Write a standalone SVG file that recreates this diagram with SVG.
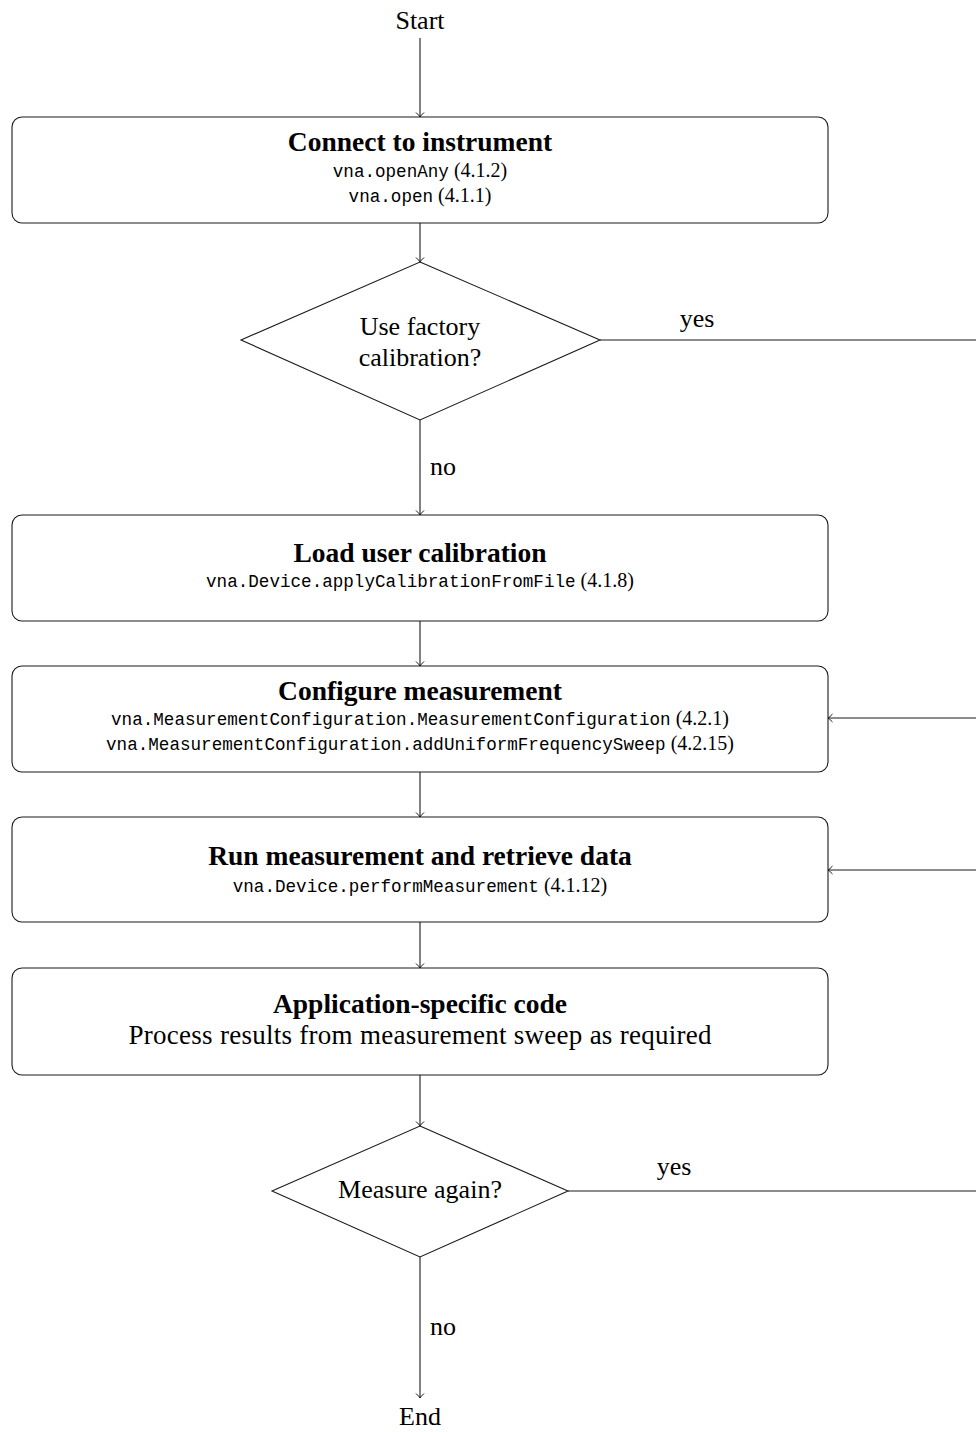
<svg xmlns="http://www.w3.org/2000/svg" width="976" height="1432" viewBox="0 0 976 1432">
<style>
.box{fill:#fff;stroke:#1a1a1a;stroke-width:1.1}
.ln{fill:none;stroke:#1a1a1a;stroke-width:1.1}
.t{font-family:"Liberation Serif",serif;fill:#000;text-anchor:middle}
.title{font-size:27.5px;font-weight:bold}
.body{font-size:27px}
.lab{font-size:26px}
.m{font-family:"Liberation Mono",monospace;font-size:17.6px}
.s{font-family:"Liberation Serif",serif;font-size:20px}
</style>
<defs>
<marker id="ar" markerUnits="userSpaceOnUse" markerWidth="12" markerHeight="12" viewBox="-6 -6 12 12" refX="0" refY="0" orient="auto">
<path d="M -4.5 -4 Q -1.5 -0.8 0 0 Q -1.5 0.8 -4.5 4" fill="none" stroke="#1a1a1a" stroke-width="1"/>
</marker>
</defs>
<g id="connectors">
<line class="ln" x1="420" y1="38" x2="420" y2="117" marker-end="url(#ar)"/>
<line class="ln" x1="420" y1="223" x2="420" y2="262" marker-end="url(#ar)"/>
<line class="ln" x1="600" y1="340" x2="976" y2="340"/>
<text class="t lab" x="697" y="327">yes</text>
<line class="ln" x1="420" y1="420" x2="420" y2="515" marker-end="url(#ar)"/>
<text class="t lab" x="443" y="475">no</text>
<line class="ln" x1="420" y1="621" x2="420" y2="666" marker-end="url(#ar)"/>
<line class="ln" x1="976" y1="718" x2="828" y2="718" marker-end="url(#ar)"/>
<line class="ln" x1="420" y1="772" x2="420" y2="817" marker-end="url(#ar)"/>
<line class="ln" x1="976" y1="870" x2="828" y2="870" marker-end="url(#ar)"/>
<line class="ln" x1="420" y1="922" x2="420" y2="968" marker-end="url(#ar)"/>
<line class="ln" x1="420" y1="1075" x2="420" y2="1126" marker-end="url(#ar)"/>
<line class="ln" x1="568" y1="1191" x2="976" y2="1191"/>
<text class="t lab" x="674" y="1175">yes</text>
<line class="ln" x1="420" y1="1257" x2="420" y2="1398" marker-end="url(#ar)"/>
<text class="t lab" x="443" y="1335">no</text>
</g>
<g id="start"><text class="t lab" x="420" y="29">Start</text></g>
<g id="connect">
<rect class="box" x="12" y="117" width="816" height="106" rx="10"/>
<text class="t title" x="420" y="151">Connect to instrument</text>
<text class="t" x="420" y="177"><tspan class="m">vna.openAny</tspan><tspan class="s"> (4.1.2)</tspan></text>
<text class="t" x="420" y="202"><tspan class="m">vna.open</tspan><tspan class="s"> (4.1.1)</tspan></text>
</g>
<g id="factory">
<polygon class="box" points="420,262 600,340 420,420 241,340"/>
<text class="t lab" x="420" y="335">Use factory</text>
<text class="t lab" x="420" y="366">calibration?</text>
</g>
<g id="loadcal">
<rect class="box" x="12" y="515" width="816" height="106" rx="10"/>
<text class="t title" x="420" y="562">Load user calibration</text>
<text class="t" x="420" y="587"><tspan class="m">vna.Device.applyCalibrationFromFile</tspan><tspan class="s"> (4.1.8)</tspan></text>
</g>
<g id="configure">
<rect class="box" x="12" y="666" width="816" height="106" rx="10"/>
<text class="t title" x="420" y="700">Configure measurement</text>
<text class="t" x="420" y="725"><tspan class="m">vna.MeasurementConfiguration.MeasurementConfiguration</tspan><tspan class="s"> (4.2.1)</tspan></text>
<text class="t" x="420" y="750"><tspan class="m">vna.MeasurementConfiguration.addUniformFrequencySweep</tspan><tspan class="s"> (4.2.15)</tspan></text>
</g>
<g id="run">
<rect class="box" x="12" y="817" width="816" height="105" rx="10"/>
<text class="t title" x="420" y="865">Run measurement and retrieve data</text>
<text class="t" x="420" y="892"><tspan class="m">vna.Device.performMeasurement</tspan><tspan class="s"> (4.1.12)</tspan></text>
</g>
<g id="app">
<rect class="box" x="12" y="968" width="816" height="107" rx="10"/>
<text class="t title" x="420" y="1013">Application-specific code</text>
<text class="t body" x="420" y="1044" textLength="583" lengthAdjust="spacing">Process results from measurement sweep as required</text>
</g>
<g id="again">
<polygon class="box" points="420,1126 568,1191 420,1257 272,1191"/>
<text class="t lab" x="420" y="1198">Measure again?</text>
</g>
<g id="end"><text class="t lab" x="420" y="1425">End</text></g>
</svg>
